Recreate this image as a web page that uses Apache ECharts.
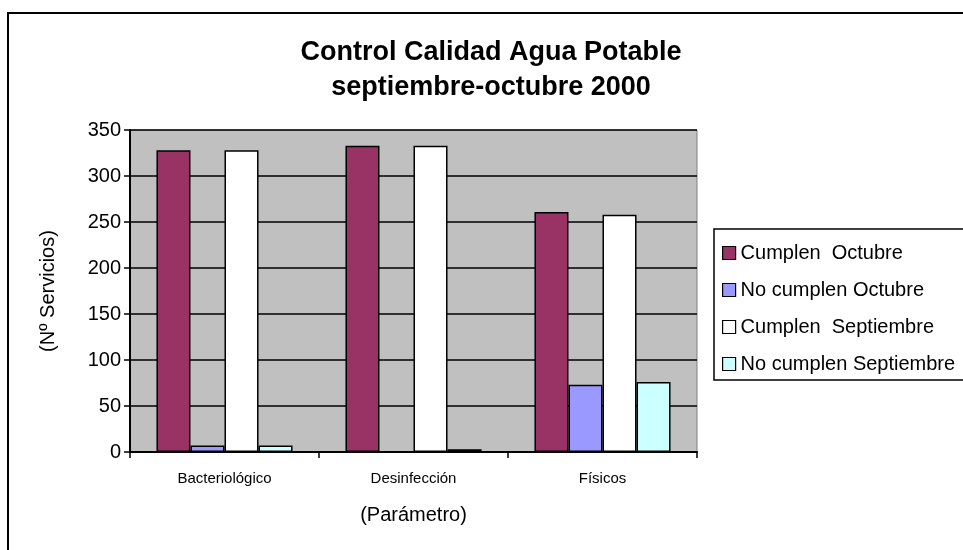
<!DOCTYPE html>
<html>
<head>
<meta charset="utf-8">
<script src="https://cdn.jsdelivr.net/npm/echarts@6/dist/echarts.min.js"></script>
<style>
  html, body { margin: 0; padding: 0; background: #fff; }
  #chart { width: 963px; height: 550px; }
</style>
</head>
<body>
<div id="chart"></div>
<script>
// datos
var categories = ['Bacteriológico', 'Desinfección', 'Físicos'];
var cumplenOct = [328, 333, 261];
var noCumplenOct = [7, 0, 73];
var cumplenSep = [328, 333, 258];
var noCumplenSep = [7, 3, 76];
var yTicks = [0, 50, 100, 150, 200, 250, 300, 350];

var seriesNames = ['Cumplen  Octubre', 'No cumplen Octubre', 'Cumplen  Septiembre', 'No cumplen Septiembre'];
var seriesColors = ['#993366', '#9999FF', '#FFFFFF', '#CCFFFF'];
var seriesData = [cumplenOct, noCumplenOct, cumplenSep, noCumplenSep];

var font = 'Liberation Sans, Arial, sans-serif';

var series = [];
for (var i = 0; i < seriesData.length; i++) {
    series.push({
        name: seriesNames[i],
        type: 'bar',
        data: seriesData[i],
        barGap: 0,
        barCategoryGap: '28%',
        itemStyle: { color: seriesColors[i], borderColor: '#000', borderWidth: 1.5 },
        emphasis: { disabled: true }
    });
}

var myChart = echarts.init(document.getElementById('chart'));
var option = {
    animation: false,
    textStyle: { fontFamily: font, color: '#000' },
    title: {
        text: 'Control Calidad Agua Potable\nseptiembre-octubre 2000',
        left: 486,
        top: 30,
        textAlign: 'center',
        textStyle: { fontFamily: font, fontSize: 27, fontWeight: 'bold', lineHeight: 35, color: '#000' }
    },
    //marco exterior
    graphic: [{
        type: 'rect',
        shape: { x: 8, y: 13, width: 1100, height: 700 },
        style: { fill: null, stroke: '#000', lineWidth: 2 },
        silent: true
    }],
    legend: {
        orient: 'vertical',
        left: 714,
        top: 229,
        padding: [14, 10, 6, 8],
        itemGap: 17,
        itemWidth: 13,
        itemHeight: 13,
        icon: 'rect',
        backgroundColor: '#fff',
        borderColor: '#000',
        borderWidth: 1.5,
        borderRadius: 0,
        textStyle: { fontFamily: font, fontSize: 20, color: '#000' },
        itemStyle: { borderColor: '#000', borderWidth: 1.2 },
        data: seriesNames
    },
    grid: {
        left: 130,
        top: 130,
        width: 567,
        height: 322,
        show: true,
        backgroundColor: '#C0C0C0',
        borderColor: '#808080',
        borderWidth: 1
    },
    xAxis: {
        type: 'category',
        data: categories,
        name: '(Parámetro)',
        nameLocation: 'middle',
        nameGap: 53,
        nameTextStyle: { fontFamily: font, fontSize: 20, color: '#000' },
        axisLine: { lineStyle: { color: '#000', width: 2 } },
        axisTick: { show: true, length: 6, lineStyle: { color: '#000', width: 1.5 } },
        axisLabel: { margin: 19, fontFamily: font, fontSize: 15, color: '#000' },
        splitLine: { show: false }
    },
    yAxis: {
        type: 'value',
        min: yTicks[0],
        max: yTicks[yTicks.length - 1],
        interval: 50,
        name: '(Nº Servicios)',
        nameLocation: 'middle',
        nameRotate: 90,
        nameGap: 72,
        nameTextStyle: { fontFamily: font, fontSize: 20, color: '#000' },
        axisLine: { show: true, lineStyle: { color: '#000', width: 2 } },
        axisTick: { show: true, length: 6, lineStyle: { color: '#000', width: 1.5 } },
        axisLabel: { margin: 9, fontFamily: font, fontSize: 20, color: '#000' },
        splitLine: { show: true, lineStyle: { color: '#000', width: 1.5 } }
    },
    series: series
};
myChart.setOption(option);
</script>
</body>
</html>
